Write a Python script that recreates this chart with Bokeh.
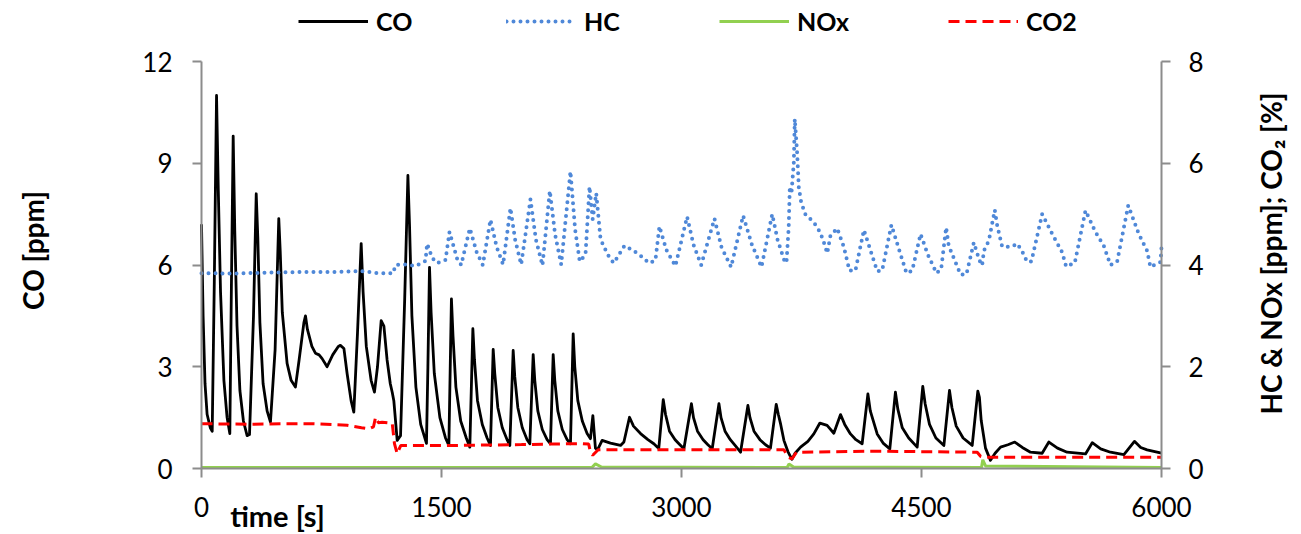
import math
from bokeh.plotting import figure
from bokeh.models import (Range1d, LinearAxis, FixedTicker, Legend, LegendItem,
                          Label, ColumnDataSource)
from bokeh.embed import file_html
from bokeh.resources import INLINE

# ---------------- data ----------------
co_t = [0, 10, 22, 35, 55, 67, 80, 94, 105, 119, 140, 160, 177, 186, 198, 208, 222, 240, 262, 285,
        300, 325, 342, 352, 365, 385, 410, 431, 460, 483, 492, 505, 535, 560, 587, 610, 640, 650,
        662, 690, 712, 735, 754, 785, 820, 855, 868, 890, 910, 935, 952, 975, 998, 1010, 1030,
        1060, 1081, 1100, 1123, 1140, 1160, 1180, 1192, 1202, 1223, 1244, 1270, 1290, 1300, 1315,
        1340, 1370, 1406, 1415, 1425, 1435, 1455, 1490, 1525, 1546, 1562, 1572, 1590, 1620, 1655,
        1677, 1696, 1706, 1725, 1755, 1785, 1806, 1823, 1833, 1852, 1880, 1910, 1927, 1948, 1958,
        1977, 2005, 2035, 2052, 2073, 2083, 2102, 2130, 2160, 2181, 2198, 2208, 2227, 2255, 2285,
        2306, 2323, 2333, 2352, 2380, 2410, 2431, 2446, 2462, 2475, 2504, 2556, 2619, 2640, 2675,
        2700, 2744, 2790, 2827, 2858, 2886, 2900, 2925, 2960, 2990, 3015, 3062, 3075, 3100, 3135,
        3165, 3192, 3234, 3247, 3272, 3305, 3340, 3369, 3415, 3428, 3453, 3490, 3525, 3556, 3592,
        3605, 3620, 3640, 3665, 3690, 3710, 3744, 3790, 3827, 3865, 3910, 3952, 3994, 4020, 4056,
        4090, 4129, 4165, 4180, 4223, 4260, 4302, 4337, 4352, 4380, 4420, 4473, 4508, 4523, 4550,
        4590, 4640, 4675, 4690, 4717, 4760, 4817, 4852, 4862, 4873, 4900, 4931, 4960, 4994, 5040,
        5083, 5130, 5181, 5254, 5296, 5350, 5410, 5525, 5567, 5620, 5681, 5765, 5831, 5870, 5910,
        6000]
co_v = [7.2, 4.5, 2.5, 1.6, 1.2, 1.1, 5.5, 11.0, 8.2, 5.2, 2.6, 1.5, 1.03, 5.0, 9.8, 7.0, 4.2, 2.3,
        1.4, 0.97, 1.0, 4.5, 8.1, 6.8, 4.3, 2.5, 1.7, 1.37, 3.5, 7.37, 6.4, 4.6, 3.1, 2.6, 2.4, 3.2,
        4.3, 4.5, 4.1, 3.6, 3.4, 3.35, 3.24, 3.0, 3.35, 3.6, 3.63, 3.54, 2.8, 2.0, 1.66, 4.0, 6.63,
        5.2, 3.6, 2.6, 2.25, 3.0, 4.36, 4.2, 3.2, 2.5, 2.25, 2.0, 0.83, 0.97, 5.0, 8.64, 7.2, 4.5,
        2.4, 1.3, 0.74, 3.0, 5.93, 4.6, 2.8, 1.5, 0.9, 0.68, 5.0, 3.9, 2.4, 1.4, 0.9, 0.63, 4.12,
        3.2, 2.0, 1.3, 0.9, 0.68, 3.51, 2.8, 1.8, 1.2, 0.85, 0.68, 3.48, 2.7, 1.8, 1.2, 0.85, 0.73,
        3.36, 2.6, 1.7, 1.15, 0.85, 0.73, 3.36, 2.6, 1.7, 1.15, 0.85, 0.73, 3.97, 3.0, 2.0, 1.4,
        1.03, 0.88, 1.56, 0.6, 0.55, 0.83, 0.75, 0.68, 0.78, 1.51, 1.25, 1.03, 0.85, 0.73, 0.59,
        2.03, 1.6, 1.1, 0.85, 0.7, 0.58, 1.91, 1.5, 1.1, 0.85, 0.7, 0.58, 1.91, 1.5, 1.1, 0.85,
        0.65, 0.48, 1.86, 1.5, 1.1, 0.85, 0.7, 0.6, 1.89, 1.6, 1.3, 0.83, 0.5, 0.27, 0.45, 0.63,
        0.8, 1.02, 1.34, 1.27, 1.04, 1.59, 1.3, 1.02, 0.85, 0.73, 2.2, 1.7, 1.02, 0.75, 0.58, 2.25,
        1.75, 1.2, 0.9, 0.63, 2.42, 1.9, 1.3, 0.9, 0.68, 2.3, 1.8, 1.25, 0.9, 0.68, 2.28, 2.1,
        1.42, 0.6, 0.24, 0.45, 0.63, 0.7, 0.78, 0.62, 0.48, 0.45, 0.78, 0.6, 0.48, 0.43, 0.76,
        0.58, 0.48, 0.41, 0.8, 0.62, 0.55, 0.45]

hc_t = [0, 200, 400, 600, 800, 1000, 1100, 1198, 1212, 1275, 1337, 1400, 1410, 1442, 1473, 1525,
        1550, 1598, 1623, 1677, 1720, 1758, 1806, 1845, 1885, 1931, 1960, 1998, 2056, 2090, 2131,
        2177, 2210, 2248, 2306, 2335, 2364, 2400, 2425, 2445, 2467, 2494, 2515, 2552, 2577, 2644,
        2702, 2758, 2796, 2837, 2862, 2905, 2962, 3035, 3075, 3123, 3206, 3250, 3310, 3385, 3440,
        3500, 3567, 3600, 3640, 3656, 3670, 3677, 3687, 3702, 3708, 3723, 3733, 3748, 3775, 3827,
        3865, 3886, 3911, 3931, 3973, 4015, 4050, 4087, 4140, 4180, 4223, 4254, 4312, 4360, 4406,
        4442, 4494, 4540, 4594, 4623, 4654, 4670, 4744, 4781, 4827, 4862, 4879, 4890, 4921, 4958,
        4973, 5004, 5067, 5098, 5129, 5160, 5187, 5254, 5317, 5379, 5404, 5458, 5525, 5587, 5639,
        5681, 5723, 5792, 5858, 5910, 5931, 5994, 6000]
hc_v = [3.84, 3.83, 3.85, 3.86, 3.86, 3.88, 3.84, 3.84, 4.0, 4.01, 3.98, 4.08, 4.42, 4.14, 4.04,
        4.1, 4.65, 4.12, 4.0, 4.72, 4.25, 4.0, 4.89, 4.35, 4.01, 5.12, 4.5, 4.01, 5.29, 4.5, 3.99,
        5.46, 4.6, 4.01, 5.84, 4.7, 4.07, 4.2, 5.54, 4.9, 5.41, 4.51, 4.36, 4.13, 4.04, 4.38, 4.28,
        4.15, 4.04, 4.09, 4.76, 4.3, 3.98, 4.95, 4.4, 4.0, 4.91, 4.35, 3.96, 4.97, 4.4, 3.96, 5.0,
        4.5, 4.11, 4.04, 4.74, 5.54, 5.4, 6.02, 6.87, 6.19, 5.53, 5.23, 4.99, 4.84, 4.65, 4.48,
        4.23, 4.58, 4.72, 4.35, 3.89, 3.89, 4.69, 4.3, 3.88, 3.89, 4.79, 4.3, 3.84, 3.89, 4.61,
        4.2, 3.84, 3.92, 4.74, 4.38, 3.81, 3.82, 4.44, 4.09, 3.99, 4.28, 4.48, 5.08, 4.78, 4.36,
        4.36, 4.42, 4.27, 4.06, 4.07, 5.0, 4.61, 4.25, 3.97, 4.04, 5.07, 4.65, 4.38, 4.0, 4.07,
        5.17, 4.61, 4.28, 3.96, 4.06, 4.35]

nox_t = [0, 600, 1200, 2440, 2462, 2500, 3660, 3672, 3700, 4875, 4883, 4900, 6000]
nox_v = [0.02, 0.02, 0.02, 0.02, 0.09, 0.03, 0.02, 0.09, 0.03, 0.02, 0.17, 0.05, 0.02]

co2_t = [0, 300, 500, 700, 910, 1000, 1046, 1075, 1088, 1105, 1129, 1192, 1206, 1223, 1245, 1500,
         2000, 2375, 2420, 2431, 2445, 2479, 3000, 3640, 3667, 3690, 3719, 4200, 4848, 4869,
         4890, 6000]
co2_v = [0.88, 0.87, 0.88, 0.88, 0.85, 0.8, 0.78, 0.82, 1.01, 0.9, 0.91, 0.89, 0.49, 0.29, 0.45,
         0.45, 0.47, 0.49, 0.48, 0.32, 0.26, 0.37, 0.37, 0.37, 0.22, 0.19, 0.32, 0.34, 0.32, 0.24,
         0.22, 0.22]

x_ticks = [0, 1500, 3000, 4500, 6000]
left_ticks = [0, 3, 6, 9, 12]
right_ticks = [0, 2, 4, 6, 8]

# ---------------- layout geometry (pixels) ----------------
W, H = 1301, 534
PX_L, PX_R = 201, 1161      # x of t=0 and t=6000
PY_B, PY_T = 468, 61        # y of value 0 and of the top tick

FONT = "Lato"
AX_COLOR = "#8c8c8c"

sx = (x_ticks[-1] - x_ticks[0]) / (PX_R - PX_L)
sl = (left_ticks[-1] - left_ticks[0]) / (PY_B - PY_T)
sr = (right_ticks[-1] - right_ticks[0]) / (PY_B - PY_T)

x_range = Range1d(-PX_L * sx, (W - PX_L) * sx)
y_range = Range1d(-(H - PY_B) * sl, PY_B * sl)

p = figure(width=W, height=H, x_range=x_range, y_range=y_range,
           output_backend="svg", toolbar_location=None,
           min_border_left=0, min_border_right=0, min_border_top=0, min_border_bottom=0)
p.title.visible = False
p.extra_y_ranges = {"right": Range1d(-(H - PY_B) * sr, PY_B * sr)}
p.outline_line_color = None
p.xgrid.visible = False
p.ygrid.visible = False
p.background_fill_color = "white"
p.border_fill_color = "white"


def style_axis(ax, standoff):
    ax.axis_line_color = AX_COLOR
    ax.axis_line_width = 2
    ax.major_tick_line_color = AX_COLOR
    ax.major_tick_line_width = 2
    ax.major_tick_out = 9
    ax.major_tick_in = 0
    ax.minor_tick_line_color = None
    ax.major_label_text_font = FONT
    ax.major_label_text_font_size = "26px"
    ax.major_label_text_color = "black"
    ax.major_label_standoff = standoff


xax = p.xaxis[0]
yax = p.yaxis[0]
xax.ticker = FixedTicker(ticks=x_ticks)
yax.ticker = FixedTicker(ticks=left_ticks)
xax.fixed_location = 0
yax.fixed_location = 0
xax.bounds = (x_ticks[0], x_ticks[-1])
yax.bounds = (left_ticks[0], left_ticks[-1])
style_axis(xax, 19)
style_axis(yax, 20)

right_axis = LinearAxis(y_range_name="right", ticker=FixedTicker(ticks=right_ticks),
                        fixed_location=x_ticks[-1], bounds=(right_ticks[0], right_ticks[-1]))
style_axis(right_axis, 18)
p.add_layout(right_axis, "right")

co_src = ColumnDataSource(dict(t=co_t, v=co_v))
hc_src = ColumnDataSource(dict(t=hc_t, v=hc_v))
nox_src = ColumnDataSource(dict(t=nox_t, v=nox_v))
co2_src = ColumnDataSource(dict(t=co2_t, v=co2_v))

r_co = p.line("t", "v", source=co_src, line_color="black", line_width=2.8, line_join="round")
r_hc = p.line("t", "v", source=hc_src, y_range_name="right", line_color="#4f88d8",
              line_width=4, line_dash="0 7", line_cap="round", line_join="round")
r_nox = p.line("t", "v", source=nox_src, y_range_name="right", line_color="#92d050",
               line_width=3)
r_co2 = p.line("t", "v", source=co2_src, y_range_name="right", line_color="#ff0000",
               line_width=3, line_dash="11 6")

# legend: four single-item legends placed like the reference
for r, name, vx in [(r_co, "CO", 298), (r_hc, "HC", 506), (r_nox, "NOx", 719), (r_co2, "CO2", 948)]:
    leg = Legend(items=[LegendItem(label=name, renderers=[r])], location=(vx, 498),
                 orientation="horizontal", glyph_width=70, glyph_height=20, label_standoff=8,
                 padding=0, margin=0, border_line_color=None, background_fill_alpha=0,
                 label_text_font=FONT, label_text_font_style="bold",
                 label_text_font_size="25px", label_text_color="black")
    p.add_layout(leg)

p.add_layout(Label(x=32, y=H - 250, x_units="screen", y_units="screen", text="CO [ppm]",
                   angle=math.pi / 2, text_align="center", text_baseline="middle",
                   text_font=FONT, text_font_style="bold", text_font_size="28px",
                   text_color="black"))
p.add_layout(Label(x=1270, y=H - 253, x_units="screen", y_units="screen",
                   text="HC & NOx [ppm]; CO\u2082 [%]",
                   angle=math.pi / 2, text_align="center", text_baseline="middle",
                   text_font=FONT, text_font_style="bold", text_font_size="28px",
                   text_color="black"))
p.add_layout(Label(x=277, y=H - 515, x_units="screen", y_units="screen", text="time [s]",
                   text_align="center", text_baseline="middle",
                   text_font=FONT, text_font_style="bold", text_font_size="29px",
                   text_color="black"))

open("out.html", "w").write(file_html(p, INLINE))
